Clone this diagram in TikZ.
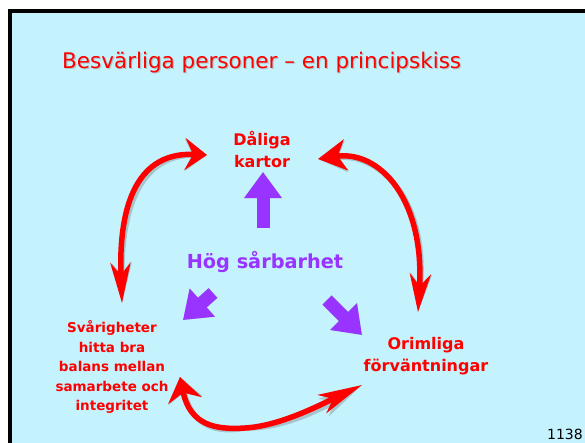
\documentclass[tikz,border=0pt]{standalone}
\usepackage{fontspec}
\setmainfont{DejaVu Sans}
\usetikzlibrary{arrows.meta}
\definecolor{bgcyan}{HTML}{C4F2FD}
\definecolor{redA}{HTML}{FF0000}
\definecolor{purp}{HTML}{9933FF}
\definecolor{purpdark}{HTML}{7A22D6}
\tikzset{
  redtext/.style={text=redA, font=\bfseries\fontsize{16}{22}\selectfont, align=center, inner sep=0pt},
  redarrow/.style={draw=redA, line width=5.5pt},
  shadowarrow/.style={draw=black!55, opacity=0.35, line width=5.5pt, shift={(3,3)}},
  purparrow/.style={draw=purp, line width=13pt, -{Triangle[length=26pt,width=36pt]}},
  purpshadow/.style={draw=black!55, opacity=0.35, line width=13pt, shift={(3,3)}, -{Triangle[length=26pt,width=36pt]}},
}
\begin{document}
\begin{tikzpicture}[x=1pt,y=-1pt]
\useasboundingbox (0,0) rectangle (585,442);
\fill[white] (0,0) rectangle (585,442);
\fill[black] (8,9) rectangle (590,450);
\fill[bgcyan] (12,13) rectangle (590,450);

% title
\node[anchor=base west, inner sep=0pt, text=black!40, opacity=0.5, font=\fontsize{21.5}{26}\selectfont] at (63.2,69.2) {Besvärliga personer – en principskiss};
\node[anchor=base west, inner sep=0pt, text=redA, font=\fontsize{21.5}{26}\selectfont] (title) at (62,68) {Besvärliga personer – en principskiss};

% nodes
\node[redtext] (dal) at (262,150) {Dåliga\\kartor};
\node[text=purp, font=\bfseries\fontsize{19.3}{24}\selectfont, inner sep=0pt] (hog) at (265,262) {Hög sårbarhet};
\node[redtext, font=\bfseries\fontsize{13.5}{19.5}\selectfont] (sva) at (112,367) {Svårigheter\\hitta bra\\balans mellan\\samarbete och\\integritet};
\node[redtext] (ori) at (426,356) {Orimliga\\förväntningar};
\node[anchor=base east, inner sep=0pt, font=\fontsize{14}{16}\selectfont] (num) at (583,439) {1138};

% connector coordinates
\coordinate (a1s) at (122,303);
\coordinate (a1e) at (207,155);
\coordinate (a2s) at (318,159);
\coordinate (a2e) at (418,312);
\coordinate (a3s) at (180,377);
\coordinate (a3m) at (245,428);
\coordinate (a3e) at (362,385);

% shadows of red arrows
\draw[shadowarrow, {Stealth[length=40pt,width=20pt,inset=12pt]}-{Stealth[length=22pt,width=32pt,inset=8pt]}]
  (a1s) .. controls (118,200) and (140,152) .. (a1e);
\draw[shadowarrow, {Stealth[length=28pt,width=31pt,inset=8pt]}-{Stealth[length=38pt,width=21pt,inset=12pt]}]
  (a2s) .. controls (380,150) and (425,200) .. (a2e);
\draw[shadowarrow, {Stealth[length=24pt,width=34pt,inset=8pt]}-{Stealth[length=44pt,width=20pt,inset=12pt]}]
  (a3s) .. controls (190,425) and (215,430) .. (a3m) .. controls (280,426) and (320,405) .. (a3e);

% red arrows
\draw[redarrow, {Stealth[length=40pt,width=20pt,inset=12pt]}-{Stealth[length=22pt,width=32pt,inset=8pt]}]
  (a1s) .. controls (118,200) and (140,152) .. (a1e);
\draw[redarrow, {Stealth[length=28pt,width=31pt,inset=8pt]}-{Stealth[length=38pt,width=21pt,inset=12pt]}]
  (a2s) .. controls (380,150) and (425,200) .. (a2e);
\draw[redarrow, {Stealth[length=24pt,width=34pt,inset=8pt]}-{Stealth[length=44pt,width=20pt,inset=12pt]}]
  (a3s) .. controls (190,425) and (215,430) .. (a3m) .. controls (280,426) and (320,405) .. (a3e);

% purple arrows
\coordinate (p1s) at (263,228);
\coordinate (p1e) at (263,172);
\coordinate (p2s) at (213,293);
\coordinate (p2e) at (183,320);
\coordinate (p3s) at (327,300);
\coordinate (p3e) at (362,335);
\draw[purpshadow] (p1s) -- (p1e);
\draw[purpshadow] (p2s) -- (p2e);
\draw[purpshadow] (p3s) -- (p3e);
\draw[purparrow] (p1s) -- (p1e);
\draw[purparrow] (p2s) -- (p2e);
\draw[purparrow] (p3s) -- (p3e);
\end{tikzpicture}
\end{document}
